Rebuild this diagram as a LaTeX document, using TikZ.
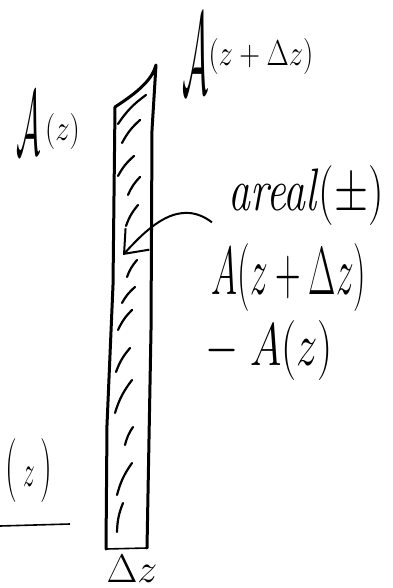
\RequirePackage{fix-cm}
\documentclass[tikz,border=0pt]{standalone}
\usepackage{amsmath}
\usepackage{amssymb}
\usetikzlibrary{arrows.meta, positioning}
\newcommand{\calAbig}[3]{\raisebox{#2}{\scalebox{#3}[1]{\fontsize{#1}{#1}\selectfont$\mathcal{A}$}}}
\tikzset{
    handlbl/.style={inner sep=0pt, font=\fontsize{30}{34}\selectfont},
    scriptlbl/.style={inner sep=0pt, font=\fontsize{18}{22}\selectfont, xscale=0.8},
    stripedge/.style={line width=1.5pt, line cap=round, line join=round},
    hatch/.style={line width=1.1pt, line cap=round},
    arrow/.style={-{Straight Barb[length=10pt, width=16pt, line width=1pt]}, line width=1pt},
    baseline/.style={line width=0.8pt},
}
\begin{document}
\begin{tikzpicture}[x=0.5pt, y=-0.5pt]
    \useasboundingbox (0,0) rectangle (392,588);
    \draw[stripedge] (106,549) -- (107,425) -- (113,285) -- (115,107)
        .. controls (138,92) and (152,80) .. (156,65)
        -- (152,130) -- (151,330) -- (147,548);
    \draw[baseline] (106,549) -- (147,548);
    \foreach \ax/\ay/\bx/\by in {118/124/146/95, 122/143/140/120, 118/176/134/156,
        128/195/140/177, 126/226/138/205, 127/277/137/260, 122/303/135/287,
        118/330/132/310, 116/372/130/348, 115/413/132/380, 125/445/133/427,
        117/495/132/463, 117/532/123/503} {
        \draw[hatch] (\ax,\ay) to[bend left=10] (\bx,\by);
    }
    \draw[baseline] (0,526) -- (70,524);
    \node[scriptlbl] (topA) at (248,54) {\calAbig{58}{-14pt}{0.35}$(z+\Delta z)$};
    \node[scriptlbl] (leftA) at (48,123) {\calAbig{46}{-7pt}{0.41}$\,(z)$};
    \node[handlbl, xscale=0.73] (areal) at (306,196) {\textit{areal}$(\pm)$};
    \node[handlbl, font=\fontsize{34}{38}\selectfont, xscale=0.52] (Aplus) at (289,278) {$A(z+\Delta z)$};
    \node[handlbl, xscale=0.71] (Aminus) at (269,350) {$-\;A(z)$};
    \node[handlbl, font=\fontsize{32}{36}\selectfont, xscale=0.52] (zlbl) at (29,470) {$(\,{\scriptstyle z}\,)$};
    \node[inner sep=0pt, font=\fontsize{20}{24}\selectfont] (dz) at (132,569) {$\Delta z$};
    \coordinate (arealtip) at (123,255);
    \draw[arrow] ([shift={(-16,-4)}]areal.south west) .. controls (180,198) and (150,225) .. (arealtip);
\end{tikzpicture}
\end{document}
